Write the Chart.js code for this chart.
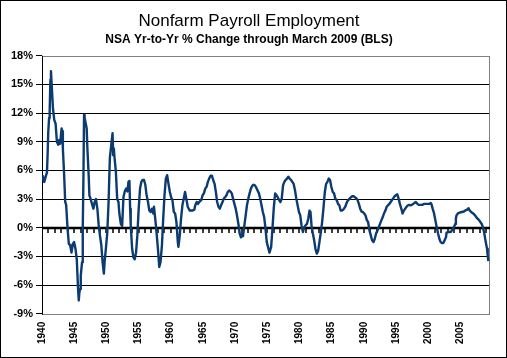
<!DOCTYPE html>
<html><head><meta charset="utf-8">
<script src="https://cdn.jsdelivr.net/npm/chart.js@4/dist/chart.umd.min.js"></script>
<style>html,body{margin:0;padding:0;background:#fff;}#wrap{width:507px;height:358px;}</style>
</head><body><div id="wrap"><canvas id="c" width="507" height="358"></canvas></div>
<script>
const chartTitle = 'Nonfarm Payroll Employment';
const chartSubtitle = 'NSA Yr-to-Yr % Change through March 2009 (BLS)';
const dates = [
1940.00,1940.15,1940.35,1940.55,1940.77,1940.88,1940.97,1941.10,1941.19,1941.30,1941.39,1941.50,1941.70,1941.90,
1942.11,1942.31,1942.52,1942.67,1942.82,1943.04,1943.13,1943.24,1943.44,1943.60,1943.75,1943.97,
1944.17,1944.37,1944.58,1944.78,1944.98,1945.20,1945.40,1945.60,1945.71,1945.80,1945.91,
1946.02,1946.22,1946.33,1946.44,1946.53,1946.62,1946.74,1946.94,1947.05,1947.25,1947.36,1947.56,1947.76,1947.98,
1948.18,1948.38,1948.60,1948.80,1949.00,1949.21,1949.41,1949.61,1949.72,1949.92,
1950.14,1950.34,1950.54,1950.76,1950.96,1951.06,1951.16,1951.27,1951.47,1951.68,1951.88,
1952.00,1952.24,1952.45,1952.65,1952.85,1953.07,1953.27,1953.43,1953.58,1953.69,1953.78,
1954.00,1954.20,1954.40,1954.61,1954.81,1955.02,1955.23,1955.43,1955.63,1955.85,
1956.05,1956.25,1956.47,1956.67,1956.87,1957.08,1957.28,1957.39,1957.59,1957.79,
1958.01,1958.21,1958.41,1958.63,1958.83,1959.03,1959.24,1959.44,1959.65,1959.86,
1960.06,1960.26,1960.48,1960.68,1960.88,1961.10,1961.19,1961.40,1961.60,1961.81,
1962.02,1962.22,1962.42,1962.64,1962.95,1963.35,1963.66,1963.81,1964.03,1964.23,1964.43,1964.74,1964.95,
1965.15,1965.36,1965.57,1965.77,1965.97,1966.19,1966.39,1966.59,1966.81,
1967.01,1967.21,1967.42,1967.62,1967.82,1968.04,1968.24,1968.44,1968.66,1968.86,
1969.06,1969.27,1969.48,1969.68,1969.89,1970.09,1970.29,1970.51,1970.71,1970.91,
1971.13,1971.22,1971.44,1971.64,1971.84,1972.05,1972.25,1972.45,1972.67,1972.87,
1973.07,1973.29,1973.49,1973.70,1973.90,1974.10,1974.31,1974.52,1974.72,1974.92,
1975.14,1975.34,1975.60,1975.80,1976.00,1976.22,1976.42,1976.62,1976.84,
1977.04,1977.24,1977.45,1977.65,1977.85,1978.07,1978.27,1978.47,1978.69,1978.89,
1979.09,1979.31,1979.51,1979.71,1979.92,1980.12,1980.32,1980.54,1980.74,1980.94,
1981.16,1981.36,1981.56,1981.71,1981.87,1982.08,1982.28,1982.48,1982.70,1982.90,
1983.10,1983.32,1983.52,1983.72,1983.94,1984.14,1984.34,1984.55,1984.75,1984.95,
1985.17,1985.37,1985.57,1985.79,1985.99,1986.19,1986.40,1986.60,1986.81,
1987.11,1987.38,1987.58,1987.79,1987.99,1988.19,1988.41,1988.61,1988.81,
1989.03,1989.23,1989.43,1989.64,1989.85,1990.05,1990.26,1990.46,1990.66,1990.88,
1991.08,1991.28,1991.50,1991.70,1991.90,1992.11,1992.31,1992.51,1992.73,1992.93,
1993.13,1993.35,1993.55,1993.75,1993.97,1994.17,1994.37,1994.58,1994.78,1994.98,
1995.20,1995.40,1995.60,1995.82,1996.02,1996.22,1996.43,1996.64,1996.84,
1997.05,1997.25,1997.45,1997.67,1997.87,1998.07,1998.33,1998.53,1998.75,
1999.06,1999.37,1999.57,1999.88,2000.19,2000.39,2000.49,2000.69,2000.91,
2001.11,2001.31,2001.53,2001.73,2001.93,2002.14,2002.35,2002.55,2002.76,2002.85,
2003.07,2003.38,2003.58,2003.78,2004.00,2004.20,2004.30,2004.40,2004.61,2004.92,
2005.23,2005.54,2005.74,2006.05,2006.25,2006.46,2006.67,2006.98,
2007.28,2007.59,2007.90,2008.10,2008.31,2008.52,2008.72,2008.94,2009.14,2009.24,2009.34
];
const pctChange = [
5.4,5.1,4.8,5.3,5.8,7.9,10.0,11.5,12.2,15.5,16.4,15.0,12.5,11.3,
10.9,9.0,8.7,9.2,8.8,10.4,10.1,8.3,5.5,2.7,2.4,-0.1,
-1.7,-1.8,-2.6,-1.7,-1.5,-2.2,-3.3,-6.4,-7.6,-6.8,-6.4,
-5.0,-3.6,-0.1,5.5,11.8,11.5,11.1,10.4,8.3,5.5,3.4,3.0,2.5,2.0,
2.7,3.0,2.0,0.3,-0.8,-1.8,-3.6,-4.8,-3.6,-2.2,
-0.5,2.7,7.3,8.7,9.9,7.6,8.3,7.3,5.9,3.0,2.7,
1.6,0.4,0.2,3.2,3.8,4.1,3.8,4.8,4.9,2.0,0.3,
-2.2,-3.1,-3.3,-2.6,-0.8,2.0,4.1,4.8,5.0,5.0,
4.5,3.4,2.7,1.8,1.65,2.0,1.5,2.2,0.95,-0.45,
-2.2,-4.1,-3.6,-1.85,0.95,3.4,5.15,5.5,4.6,3.75,
3.2,2.9,1.65,1.5,0.6,-1.5,-2.0,-0.8,0.95,2.35,
3.05,3.75,3.05,2.2,1.8,1.8,1.9,2.35,2.7,2.5,2.7,2.9,3.4,
3.6,4.1,4.3,4.8,5.15,5.45,5.45,5.0,4.6,
3.75,2.7,2.2,2.0,2.35,2.7,3.05,3.2,3.4,3.75,
3.9,3.8,3.6,3.05,2.5,2.0,1.3,0.4,-0.6,-1.0,
-0.6,-0.9,0.25,1.3,2.35,3.05,3.6,4.1,4.4,4.5,
4.45,4.2,3.9,3.6,3.05,2.35,1.65,1.1,-0.1,-1.5,
-2.1,-2.6,-2.0,-0.1,2.0,3.6,3.4,3.2,2.9,
2.7,3.05,4.45,4.8,5.0,5.15,5.35,5.15,5.0,4.8,
4.6,3.9,3.05,2.35,1.65,1.3,0.25,-0.45,0.07,0.25,
0.4,0.95,1.8,1.65,0.25,-0.6,-1.3,-2.2,-2.7,-2.4,
-1.5,-0.45,0.6,2.0,3.75,4.6,4.8,5.15,5.0,4.3,
3.75,3.6,3.05,2.9,2.5,2.35,1.8,1.8,1.9,
2.2,2.7,2.9,3.05,3.2,3.3,3.3,3.2,3.1,
2.9,2.5,2.0,1.7,1.65,1.5,1.3,0.8,0.6,-0.3,
-0.8,-1.3,-1.5,-1.15,-0.6,-0.3,0.07,0.4,0.8,1.1,
1.5,1.8,2.2,2.35,2.5,2.7,2.9,3.1,3.3,3.4,
3.5,3.05,2.5,2.0,1.5,1.8,2.0,2.2,2.35,
2.4,2.35,2.4,2.5,2.6,2.7,2.5,2.4,2.4,
2.4,2.5,2.5,2.5,2.5,2.6,2.5,2.0,1.5,
0.8,0.07,-0.6,-1.15,-1.5,-1.6,-1.6,-1.3,-1.0,-0.5,
-0.45,-0.45,-0.4,-0.1,0.07,0.4,0.95,1.3,1.5,1.6,
1.65,1.7,1.8,1.9,2.05,1.8,1.65,1.5,
1.3,1.0,0.8,0.6,0.4,0.0,-0.6,-1.5,-2.2,-2.9,-3.5
];
const xTickYears = [1940,1945,1950,1955,1960,1965,1970,1975,1980,1985,1990,1995,2000,2005];
const yTickValues = [-9,-6,-3,0,3,6,9,12,15,18];
const xFirstYear = 1940;
const xLastYear = 2009.6;

const FONT = "'Liberation Sans', Arial, Helvetica, sans-serif";
Chart.defaults.font.family = FONT;
Chart.defaults.color = '#000';

const decor = {
  id: 'decor',
  beforeDraw(chart) {
    const ctx = chart.ctx;
    ctx.save();
    ctx.fillStyle = '#fff';
    ctx.fillRect(0, 0, chart.width, chart.height);
    ctx.restore();
  },
  beforeDatasetsDraw(chart) {
    const {ctx, chartArea: a, scales: {x, y}} = chart;
    ctx.save();
    ctx.strokeStyle = '#808080';
    ctx.lineWidth = 1;
    ctx.strokeRect(Math.round(a.left) + 0.5, Math.round(a.top) + 0.5, Math.round(a.right - a.left) - 1, Math.round(a.bottom - a.top));
    ctx.strokeStyle = '#000';
    ctx.beginPath();
    ctx.moveTo(Math.round(a.left) + 0.5, a.top);
    ctx.lineTo(Math.round(a.left) + 0.5, a.bottom + 1);
    ctx.stroke();
    const y0 = Math.round(y.getPixelForValue(0));
    ctx.lineWidth = 2.5;
    ctx.beginPath();
    ctx.moveTo(a.left, y0);
    ctx.lineTo(a.right, y0);
    ctx.stroke();
    ctx.lineWidth = 1.5;
    ctx.beginPath();
    for (let yr = xFirstYear + 1; yr <= xLastYear; yr++) {
      const px = Math.round(x.getPixelForValue(yr));
      ctx.moveTo(px, y0);
      ctx.lineTo(px, y0 + 5);
    }
    ctx.stroke();
    ctx.restore();
  },
  afterDraw(chart) {
    const ctx = chart.ctx;
    ctx.save();
    ctx.strokeStyle = '#000';
    ctx.lineWidth = 1;
    ctx.strokeRect(0.5, 0.5, chart.width - 1, chart.height - 1);
    ctx.restore();
  }
};

new Chart(document.getElementById('c'), {
  type: 'line',
  data: {
    datasets: [{
      data: dates.map((d, i) => ({x: d, y: pctChange[i]})),
      borderColor: '#0b3b70',
      borderWidth: 2.4,
      pointRadius: 0,
      tension: 0,
      borderJoinStyle: 'round',
      fill: false
    }]
  },
  options: {
    responsive: false,
    animation: false,
    devicePixelRatio: 1,
    layout: {padding: {left: 8, right: 17, top: 0, bottom: 6}},
    plugins: {
      legend: {display: false},
      tooltip: {enabled: false},
      title: {display: true, text: chartTitle, color: '#000',
        font: {family: FONT, size: 17, weight: 'normal'}, padding: {top: 11, bottom: 1}},
      subtitle: {display: true, text: chartSubtitle, color: '#000',
        font: {family: FONT, size: 12, weight: 'bold'}, padding: {top: 0, bottom: 9}}
    },
    scales: {
      x: {
        type: 'linear', position: 'bottom', min: xFirstYear, max: xLastYear,
        afterBuildTicks: (s) => { s.ticks = xTickYears.map(v => ({value: v})); },
        ticks: {autoSkip: false, maxRotation: 90, minRotation: 90, padding: 8,
          font: {family: FONT, size: 10, weight: 'bold'}, color: '#000',
          callback: (v) => String(v)},
        grid: {display: false, drawTicks: false},
        border: {display: false}
      },
      y: {
        min: -9, max: 18,
        afterBuildTicks: (s) => { s.ticks = yTickValues.map(v => ({value: v})); },
        ticks: {padding: 3, font: {family: FONT, size: 11, weight: 'bold'}, color: '#000',
          callback: (v) => v + '%'},
        grid: {
          color: (c) => (c.tick && (c.tick.value === 18 || c.tick.value === -9 || c.tick.value === 0)) ? 'rgba(0,0,0,0)' : '#000',
          lineWidth: 1, drawTicks: true, tickLength: 6, tickColor: '#000'
        },
        border: {display: false}
      }
    }
  },
  plugins: [decor]
});
</script>
</body></html>
